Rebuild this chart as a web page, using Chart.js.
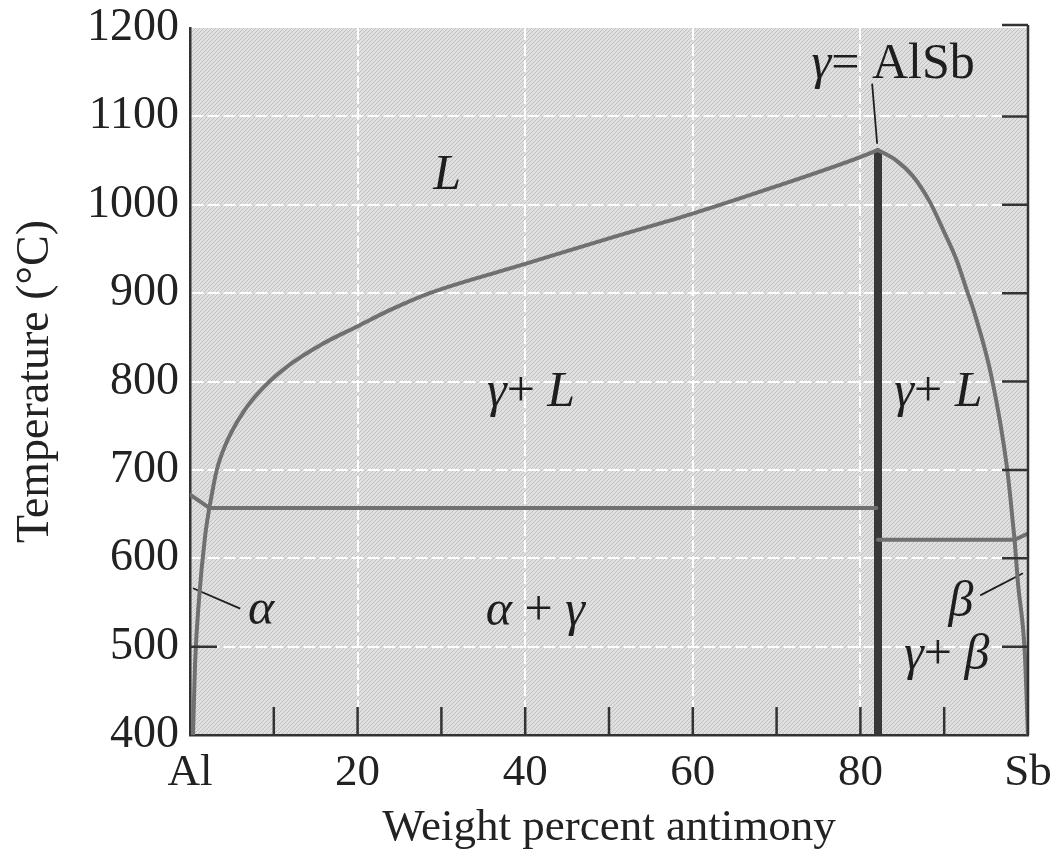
<!DOCTYPE html>
<html>
<head>
<meta charset="utf-8">
<script src="https://cdn.jsdelivr.net/npm/chart.js@4.4.1/dist/chart.umd.min.js"></script>
<style>
    html, body { margin: 0; padding: 0; background: #fff; }
    #wrap { width: 1056px; height: 861px; }
</style>
</head>
<body>
<div id="wrap"><canvas id="myChart" width="1056" height="861"></canvas></div>
<script>
// composition in wt% Sb, temperature in deg C
var liquidusAlX = [0, 2.3];
var liquidusAlT = [672, 657];

var liquidusLeftX = [2.3, 3.2, 4.4, 6.4, 8.75, 11.9, 15.9, 19.9, 23.9, 28.6, 40, 50, 60, 70, 80, 82.1];
var liquidusLeftT = [657, 700, 732, 766, 793, 819, 843, 862, 881, 900, 933, 962, 990, 1021, 1054, 1062];

var eutecticLeftX = [2.3, 81.9];
var eutecticLeftT = [657, 657];

var solvusAlphaX = [0.36, 0.6, 1.07, 1.8, 2.3];
var solvusAlphaT = [400, 480, 553, 625, 657];

var compoundX = [82.1, 82.1];
var compoundT = [400, 1062];

var liquidusRightX = [82.1, 84.3, 86.3, 88.3, 89.9, 91.5, 92.7, 93.6, 95.7, 97.5, 98.4];
var liquidusRightT = [1062, 1050, 1032, 1003, 971, 937, 903, 878, 803, 702, 621];

var eutecticRightX = [82.1, 98.4];
var eutecticRightT = [621, 621];

var liquidusSbX = [98.4, 100];
var liquidusSbT = [621, 628];

var solvusBetaX = [98.4, 98.8, 99.6, 100];
var solvusBetaT = [621, 572, 496, 400];

// leader lines for labels
var leaderAlSbX = [81.4, 82.0];
var leaderAlSbT = [1137, 1069];
var leaderAlphaX = [0.36, 6.0];
var leaderAlphaT = [566, 543];
var leaderBetaX = [94.3, 99.4];
var leaderBetaT = [558, 583];

// region labels
var phaseText = ['L', 'γ+ L', 'γ+ L', 'γ= AlSb', 'α', 'α + γ', 'β', 'γ+ β'];
var phaseX = [30.7, 40.7, 89.3, 83.9, 8.5, 41.2, 92.0, 90.3];
var phaseT = [1033, 787, 787, 1158, 541, 539, 549, 490];

// axis ticks
var xTickLabels = { 0: 'Al', 20: '20', 40: '40', 60: '60', 80: '80', 100: 'Sb' };
var xMinorTicks = [10, 20, 30, 40, 50, 60, 70, 80, 90];
var rightTicks = [500, 600, 700, 800, 900, 1000, 1100, 1200];
var leftTicks = [500];

var SERIF = "'Liberation Serif', 'DejaVu Serif', serif";

function pts(xs, ys) {
    var out = [];
    for (var i = 0; i < xs.length; i++) out.push({ x: xs[i], y: ys[i] });
    return out;
}

function phaseLine(xs, ys, curved) {
    return {
        data: pts(xs, ys),
        showLine: true,
        borderColor: '#707070',
        borderWidth: 4,
        pointRadius: 0,
        cubicInterpolationMode: curved ? 'monotone' : 'default',
        tension: 0,
        borderCapStyle: 'round',
        borderJoinStyle: 'round'
    };
}

function leader(xs, ys) {
    return {
        data: pts(xs, ys),
        showLine: true,
        borderColor: '#1e1e1e',
        borderWidth: 1.8,
        pointRadius: 0,
        tension: 0
    };
}

// stippled grey background of the plot area
var tile = document.createElement('canvas');
tile.width = 4; tile.height = 4;
var tctx = tile.getContext('2d');
tctx.fillStyle = '#e0e0e0';
tctx.fillRect(0, 0, 4, 4);
tctx.fillStyle = '#c0c0c0';
for (var k = 0; k < 4; k++) tctx.fillRect(k, 3 - k, 1, 1);

var backdrop = {
    id: 'backdrop',
    beforeDraw: function (chart) {
        var a = chart.chartArea, ctx = chart.ctx;
        ctx.save();
        ctx.fillStyle = ctx.createPattern(tile, 'repeat');
        ctx.fillRect(a.left, a.top, a.right - a.left, a.bottom - a.top);
        ctx.restore();
    }
};

var frame = {
    id: 'frame',
    afterDatasetsDraw: function (chart) {
        var ctx = chart.ctx, a = chart.chartArea;
        var sx = chart.scales.x, sy = chart.scales.y;
        ctx.save();
        ctx.strokeStyle = '#333';
        ctx.lineWidth = 2.5;
        ctx.beginPath();
        // right axis line
        ctx.moveTo(a.right, a.top - 3);
        ctx.lineTo(a.right, a.bottom);
        // inward ticks
        for (var i = 0; i < xMinorTicks.length; i++) {
            var px = sx.getPixelForValue(xMinorTicks[i]);
            ctx.moveTo(px, a.bottom);
            ctx.lineTo(px, a.bottom - 28);
        }
        for (var j = 0; j < rightTicks.length; j++) {
            var py = sy.getPixelForValue(rightTicks[j]);
            if (rightTicks[j] === 1200) py -= 3;
            ctx.moveTo(a.right, py);
            ctx.lineTo(a.right - 26, py);
        }
        for (var m = 0; m < leftTicks.length; m++) {
            var ly = sy.getPixelForValue(leftTicks[m]);
            ctx.moveTo(a.left, ly);
            ctx.lineTo(a.left + 27, ly);
        }
        ctx.stroke();

        // region labels, greek letters and L in italic
        ctx.fillStyle = '#1e1e1e';
        ctx.textBaseline = 'middle';
        ctx.textAlign = 'left';
        var italic = 'αβγL';
        for (var n = 0; n < phaseText.length; n++) {
            var s = phaseText[n];
            var runs = [];
            for (var c = 0; c < s.length; c++) {
                var it = italic.indexOf(s[c]) >= 0;
                if (runs.length && runs[runs.length - 1].it === it) runs[runs.length - 1].t += s[c];
                else runs.push({ t: s[c], it: it });
            }
            var w = 0;
            runs.forEach(function (r) {
                ctx.font = (r.it ? 'italic ' : '') + '50px ' + SERIF;
                r.w = ctx.measureText(r.t).width;
                w += r.w;
            });
            var x0 = sx.getPixelForValue(phaseX[n]) - w / 2;
            var y0 = sy.getPixelForValue(phaseT[n]);
            runs.forEach(function (r) {
                ctx.font = (r.it ? 'italic ' : '') + '50px ' + SERIF;
                ctx.fillText(r.t, x0, y0);
                x0 += r.w;
            });
        }
        ctx.restore();
    }
};

var ctx = document.getElementById('myChart').getContext('2d');
var myChart = new Chart(ctx, {
    type: 'scatter',
    data: {
        datasets: [
            phaseLine(liquidusAlX, liquidusAlT, false),
            phaseLine(liquidusLeftX, liquidusLeftT, true),
            phaseLine(eutecticLeftX, eutecticLeftT, false),
            phaseLine(solvusAlphaX, solvusAlphaT, true),
            phaseLine(liquidusRightX, liquidusRightT, true),
            phaseLine(eutecticRightX, eutecticRightT, false),
            phaseLine(liquidusSbX, liquidusSbT, false),
            phaseLine(solvusBetaX, solvusBetaT, true),
            {
                data: pts(compoundX, compoundT),
                showLine: true,
                borderColor: '#383838',
                borderWidth: 8,
                pointRadius: 0,
                tension: 0
            },
            leader(leaderAlSbX, leaderAlSbT),
            leader(leaderAlphaX, leaderAlphaT),
            leader(leaderBetaX, leaderBetaT)
        ]
    },
    options: {
        responsive: false,
        animation: false,
        devicePixelRatio: 1,
        layout: { padding: { top: 28, right: 28, bottom: 0, left: 0 } },
        plugins: {
            legend: { display: false },
            tooltip: { enabled: false }
        },
        scales: {
            x: {
                type: 'linear',
                min: 0,
                max: 100,
                afterFit: function (scale) {
                    scale.height = 126;
                    scale.paddingLeft = 0; scale.paddingRight = 0;
                },
                ticks: {
                    stepSize: 10,
                    autoSkip: false,
                    maxRotation: 0,
                    padding: 11,
                    color: '#222',
                    font: { family: SERIF, size: 45 },
                    callback: function (v) { return xTickLabels[v] !== undefined ? xTickLabels[v] : ''; }
                },
                grid: {
                    drawTicks: false,
                    lineWidth: 2,
                    color: function (c) {
                        var v = c.tick && c.tick.value;
                        return (v > 0 && v < 100 && v % 20 === 0) ? '#ffffff' : 'rgba(0,0,0,0)';
                    }
                },
                border: { display: true, color: '#333', width: 2.5, dash: [12, 4] },
                title: {
                    display: true,
                    text: 'Weight percent antimony',
                    color: '#222',
                    font: { family: SERIF, size: 45 },
                    padding: { top: 0, bottom: 6 }
                }
            },
            y: {
                type: 'linear',
                min: 400,
                max: 1200,
                afterFit: function (scale) {
                    scale.width = 190;
                    scale.paddingTop = 0; scale.paddingBottom = 0;
                },
                ticks: {
                    stepSize: 100,
                    padding: 11,
                    color: '#222',
                    font: { family: SERIF, size: 46 },
                    callback: function (v) { return String(v); }
                },
                grid: {
                    drawTicks: false,
                    lineWidth: 2,
                    color: function (c) {
                        var v = c.tick && c.tick.value;
                        return (v > 400 && v < 1200) ? '#ffffff' : 'rgba(0,0,0,0)';
                    }
                },
                border: { display: true, color: '#333', width: 2.5, dash: [12, 4] },
                title: {
                    display: true,
                    text: 'Temperature (°C)',
                    color: '#222',
                    font: { family: SERIF, size: 46 },
                    padding: { top: 8, bottom: 0 }
                }
            }
        }
    },
    plugins: [backdrop, frame]
});
</script>
</body>
</html>
